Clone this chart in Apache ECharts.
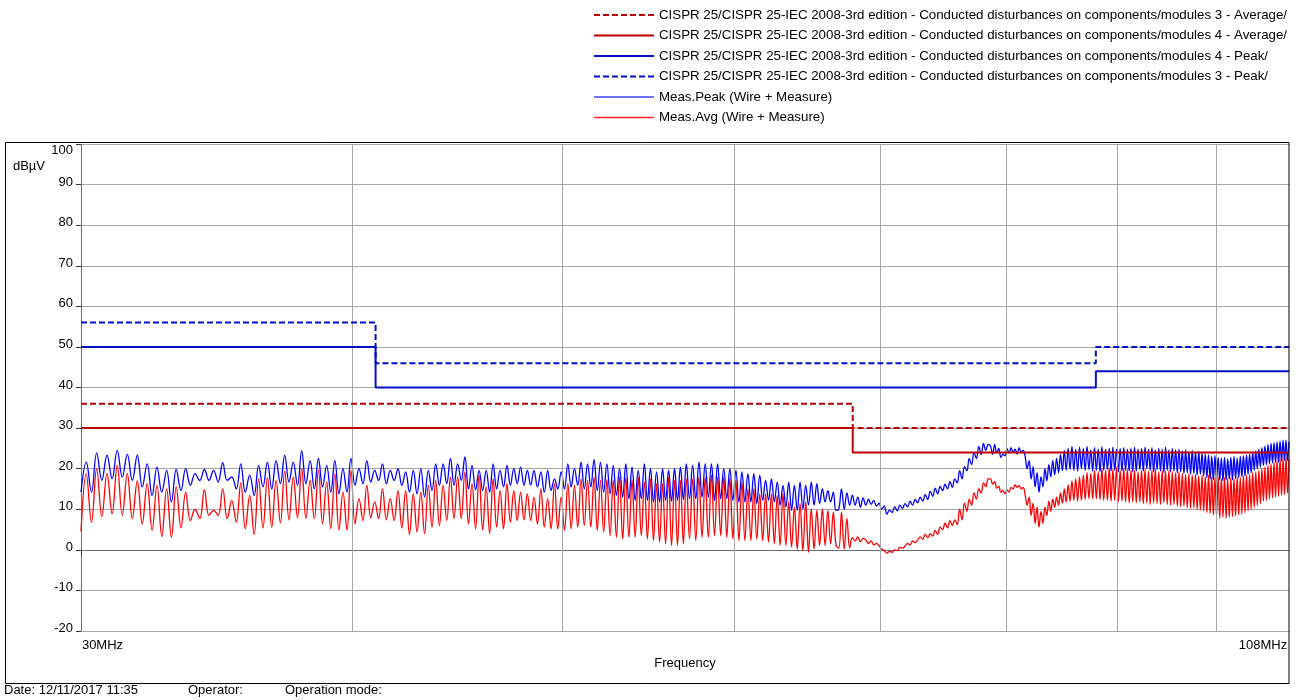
<!DOCTYPE html>
<html><head><meta charset="utf-8">
<script src="https://cdn.jsdelivr.net/npm/echarts@6/dist/echarts.min.js"></script>
<style>html,body{margin:0;padding:0;background:#fff}#c{width:1296px;height:700px}</style>
</head><body><div id="c"></div>
<script>
// ---------- data ----------
const legendNames = [
  'CISPR 25/CISPR 25-IEC 2008-3rd edition - Conducted disturbances on components/modules 3 - Average/',
  'CISPR 25/CISPR 25-IEC 2008-3rd edition - Conducted disturbances on components/modules 4 - Average/',
  'CISPR 25/CISPR 25-IEC 2008-3rd edition - Conducted disturbances on components/modules 4 - Peak/',
  'CISPR 25/CISPR 25-IEC 2008-3rd edition - Conducted disturbances on components/modules 3 - Peak/',
  'Meas.Peak (Wire + Measure)',
  'Meas.Avg (Wire + Measure)'
];
const avgClass3 = [[30,36],[68,36],[68,30],[108,30]];
const avgClass4 = [[30,30],[68,30],[68,24],[108,24]];
const peakClass4 = [[30,50],[41,50],[41,40],[88,40],[88,44],[108,44]];
const peakClass3 = [[30,56],[41,56],[41,46],[88,46],[88,50],[108,50]];

const gridFreqs = [40, 50, 60, 70, 80, 90, 100];
const yTicks = { min: -20, max: 100, step: 10 };
const xLabels = ['30MHz', '108MHz'];

// sweep segments (MHz); samples are evenly spaced inside each segment
const segBounds = [30, 35.2, 41.3, 48.5, 57.0, 67.0, 78.7, 92.2, 108];

const avgS1 = [4.5,18.8,6.8,20,8.2,18.8,8.9,20.8,8.5,18.8,7.7,17,6.4,16.3,4.8,15.9,3.3,15,3.1,15.5,5.4,14.2,7.2,10,7.7,14.8,8.5,9.7,8.5,15,7.7];
const peakS1 = [14.2,21.6,14.2,23.9,17.1,23.3,17.5,24.5,17.9,23.5,17.1,23.3,15.5,21.2,13.4,20.4,14.2,19.6,11.8,19.8,14.6,20,15.9,18.8,17.1,19.8,17.1,19.6,16.7,21.5,17.1];

const avgS2 = [12.2,6.8,16.5,5.2,13.4,3.8,17.5,5.4,17.8,5.6,17.1,6.6,19.4,7.4,17.9,7.9,20,7.7,17.1,7.7,19.6,6.4,16.7,5.2,18.8,4.9,14.2,4.9,19.6,6.4,12.6,7.2,15.9,7.9,11.8,7.7];
const peakS2 = [18,15,21.2,14.2,18.4,13.4,20.8,15.5,21.6,15,22,16.3,23.3,16.7,21.6,15.9,24.4,16.3,22,15,22.5,15.5,20.8,14.2,22,13.8,20,14.2,22.5,15.9,20,16.3,22,16.7,19.6,17.1];

const avgS3 = [15,7.4,12.6,7.2,14.6,5.4,14.6,3.8,13.8,4.4,14.2,4,15.9,5.6,17.1,6,15.9,7.2,17.9,7.7,17.9,7.7,19.2,6.4,16.3,5.2,18.4,4.9,15.5,4,17.5,5.6,14.6,5.2,16.3,6.8,14.6,7.2,14.2,7.4,13.8,7.2];
const peakS3 = [21.2,16.3,19.6,17.1,20,15.9,19.2,14.2,19.6,13.8,20,13,19.6,14.6,21.2,15.9,21.2,16.3,22.5,15.9,21.2,17.1,22.9,15,20.8,14.8,19.6,14.6,19.6,14.2,21.2,15,19.6,15.5,20.8,15.9,20,16.3,20.4,15.9,19.6,16];

const avgS4 = [13,6.4,15,5.6,12.6,5.2,16.3,5.2,13,4.8,16.3,5.2,15.9,5.6,17.5,6,17.1,5.6,17.9,4.8,17.1,4.4,17.3,3.5,17.1,3.1,17.9,2.7,17.8,3.1,17.1,3.1,17.9,3.5,16.7,2.7,17.5,2.3,16.3,1.9,16.3,1.5,17.9,1.1,17.1,1.1,17.1,1.5];
const peakS4 = [19.6,15.5,19.2,14.2,19.6,14.6,17.5,15,19.2,15,21.2,15.5,20,15.9,21.6,15,21.2,15.5,22.2,14.6,21.6,14.2,21.2,13.8,20.8,13.4,20,13,21.2,12.6,20.4,12.2,19.6,12.6,21.2,12.2,20,11.8,19.2,11.8,20,12.2,19.6,12,20,12.2,20.4,12.4];

const avgS5 = [17.5,2.7,17.5,2.3,17.9,3.1,17.9,3.1,18.4,3.5,17.9,3.5,17.9,3.1,17.5,2.7,17.1,2.3,16.7,2.3,15,2.3,15,2.7,13.8,2.3,13.8,1.9,13.8,1.5,13.4,1.1,13.8,1.1,11.8,0.7,10.5,0.2,11.4,-0.2,11.8,-0.6,10.1,0.2,9.7,1.1,10.1,1.1,9.7,1.5,9.3,1.1];
const peakS5 = [21.2,12.6,20.8,12.6,21.6,13,21.2,13,21.2,12.2,21.2,12.6,20,12.6,20,12.2,19.6,11.8,19.2,11.8,18.8,11.8,18.8,11.4,18.4,12.2,17.1,12.2,17.5,11.8,16.7,11,15.9,10.5,16.7,9.7,15.9,9.7,16.7,10.1,15.9,11,16.7,11,16.3,11.4,15,11.8,14.6,11.8,14.2,9.7];

const avgS6 = [0.4,9.3,0.2,7.7,0.5, 3.0,2.2,3.2,2.0,2.8, 2.4,1.6,2.2,1.2,1.6, 1.0,0.2,-0.2,-0.8,-0.4, -0.6,0.0,-0.2,0.6,0.4, 0.9,1.6,1.2,2.2,1.8, 2.4,3.2,2.6,3.8,3.0, 4.0,3.4,4.8,3.8,5.6, 5.0,6.6,5.4,7.2,6.0, 7.4,6.2,10.0,7.4,11.5, 9.5,12.5,11.0,14.0,12.5, 15.0,14.0,16.5,15.5,17.5];
const peakS6 = [10,15,10,14,11, 13.5,11,13,10.5,12.8, 11,12.5,11.2,12.2,10.8, 11.5,10,10.8,8.8,9.8, 9.2,10.6,9.6,11,10.2, 11.4,10.6,12,11,12.4, 11.6,13,12,13.6,12.4, 14.4,13.2,15.2,13.8,15.6, 14.6,16.2,15,16.8,15.4, 17.5,16.5,19.5,17.5,20.5, 19.5,22.5,21,24,22.5, 25.5,23.5,26.2,24.5,26];

const avgS7 = [17.5,16.2,16.8,15.2,15.6,14.2,14.6, 13.8,14.8,14.2,15.4,15.0,16.0,15.4,15.8,15.0,15.4, 13.5,11.0,13.0,8.5,11.5,6.5,10.5,5.6,9.5, 6.5,10.5,8.5,12,9.5,12.5,10.5,13,11,14,11.5,15, 11.8,16,12,17,12.2,17.5,12,18,12.2,18.4,12.4,19,12.6,18.8,12.6,19.6,12.6,19.2,12.4,20,12.2,19.6,12.2,20.2,12,19.8,12.2,20.4,11.8,19.6,12,20,11.8,19.8,11.6,19.6,11.8,19.6,11.6,19.2];
const peakS7 = [25.5,23.5,26,23.8,25,22.8,23.5, 23.2,25,23.8,25.2,24,24.8,23.6,25.2,24,24.5, 23,20,22,17.5,20.5,15.5,19,14.2,18, 15.5,20,17,21,18,22,18.5,22.5,19,23.5,19.5,24.5, 19.6,25,19.8,25.5,19.6,24.8,19.4,25.3,20,25,19.6,25.5,19.8,24.6,19.4,25.2,19.6,24.8,19.2,25.4,19.6,24.8,19.8,25,19.4,25.3,19.6,24.8,19.2,25,19.4,25.2,19.6,24.8,19.4,25,19.2,25.3,19.4,24.8];

const avgS8 = [11.8,19.6,11.4,19.8,11.6,19.4,11.2,19.6,11.6,19.8,11.4,19.2,11.2,19.6,11.6,19.4,11.2,19.6,11,19.2,11.2,19,10.8,19.2,10.6,18.8,10.8,18.6,10.4,18.8,10.2,18.4,10.4,18.6,10,18.2,9.8,18.4,9.6,18,9.2,18.4,9,18,8.6,17.8,8.2,18,7.8,17.6,8,17.8,7.8,17.6,8,17.8,8.2,17.6,8.4,18,8.6,17.8,8.8,18.2,9.2,18.4,9.6,18.6,10,19,10.4,19.2,11,19.6,11.4,20,12,20.4,12.2,20.8,12.6,21.2,12.8,21.6,13,22,13.2,22.4,13.4,22.6,13.6,22.8,14,22.4];
const peakS8 = [19.8,25,19.4,25.3,20,24.8,19.6,25.2,19.2,24.6,19.8,25,19.4,24.8,19,25.3,19.6,24.6,19.2,25,19.4,24.6,19,24.8,19.2,24.4,18.8,24.6,19,24.2,18.6,24.5,18.8,24,18.4,24.2,18.6,23.8,18.2,23.6,17.8,23.4,17.4,23,17.2,23.2,17,22.8,17.2,22.6,17,22.8,17.2,22.4,17.4,22.8,17.2,23,17.6,22.6,17.8,23,18,23.2,18.2,23.4,18.6,23.6,19,24,19.6,24.4,20,24.8,20.4,25.2,20.8,25.6,21,26,21.2,26.2,21.4,26.4,21.6,26.6,21.6,26.8,21.8,27,22,27,22,26.6];

const avgSegs = [avgS1, avgS2, avgS3, avgS4, avgS5, avgS6, avgS7, avgS8];
const peakSegs = [peakS1, peakS2, peakS3, peakS4, peakS5, peakS6, peakS7, peakS8];

// ---------- build ----------
function buildTrace(segs) {
  const out = [];
  segs.forEach((vals, s) => {
    const from = segBounds[s], to = segBounds[s + 1];
    const last = s === segs.length - 1;
    const step = (to - from) / (last ? vals.length - 1 : vals.length);
    vals.forEach((v, j) => out.push([from + j * step, v]));
  });
  return out;
}

const FONT = 'Liberation Sans, Arial, sans-serif';
const chart = echarts.init(document.getElementById('c'), null, { renderer: 'canvas' });

function limitSeries(name, data, color, dashed) {
  return {
    name, type: 'line', data, symbol: 'none', z: 5, silent: true,
    lineStyle: { color, width: 2, type: dashed ? [6, 3] : 'solid' },
    itemStyle: { color }
  };
}

const legendData = legendNames.map((n, i) => {
  const item = { name: n };
  if (i === 4) item.lineStyle = { color: '#7070ff', width: 2 };
  if (i === 5) item.lineStyle = { color: '#ff2020', width: 1.5 };
  return item;
});

chart.setOption({
  animation: false,
  backgroundColor: '#fff',
  grid: { left: 81, right: 7, top: 144, bottom: 69, containLabel: false },
  legend: {
    data: legendData,
    orient: 'vertical', left: 588, top: 3,
    itemWidth: 60, itemHeight: 14, itemGap: 6.5,
    selectedMode: false,
    itemStyle: { color: 'rgba(0,0,0,0)', borderColor: 'rgba(0,0,0,0)', borderWidth: 0 },
    textStyle: { fontFamily: FONT, fontSize: 13.3, color: '#000', lineHeight: 14 }
  },
  xAxis: {
    type: 'log', logBase: 10, min: 30, max: 108,
    name: 'Frequency', nameLocation: 'middle', nameGap: 23,
    nameTextStyle: { fontFamily: FONT, fontSize: 13, color: '#000' },
    axisLine: { show: true, lineStyle: { color: '#6e6e6e', width: 1 } },
    axisTick: { show: true, length: 6, customValues: [30], lineStyle: { color: '#333' } },
    splitLine: { show: false },
    minorTick: { show: false },
    axisLabel: {
      customValues: [30, 108],
      margin: 8,
      fontFamily: FONT, fontSize: 13, color: '#000',
      formatter: v => {
        const r = Math.round(v);
        if (r === 30) return '{l|' + xLabels[0] + '}';
        if (r === 108) return '{r|' + xLabels[1] + '}';
        return '';
      },
      rich: {
        l: { fontFamily: FONT, fontSize: 13, color: '#000', padding: [0, 0, 0, 43] },
        r: { fontFamily: FONT, fontSize: 13, color: '#000', padding: [0, 52, 0, 0] }
      }
    }
  },
  yAxis: {
    type: 'value', min: yTicks.min, max: yTicks.max, interval: yTicks.step,
    name: 'dBµV', nameLocation: 'end', nameGap: -16,
    nameTextStyle: { fontFamily: FONT, fontSize: 13, color: '#000', align: 'right', verticalAlign: 'top', padding: [0, 36, 0, 0] },
    axisLine: { show: true, lineStyle: { color: '#6e6e6e', width: 1 } },
    axisTick: { show: true, length: 5, lineStyle: { color: '#333' } },
    splitLine: { show: true, lineStyle: { color: '#a6a6a6', width: 1 } },
    axisLabel: {
      margin: 8,
      fontFamily: FONT, fontSize: 13, color: '#000',
      formatter: v => (v === yTicks.max ? '{t|' + v + '}' : '{n|' + v + '}'),
      rich: {
        t: { fontFamily: FONT, fontSize: 13, color: '#000', padding: [13, 0, 0, 0] },
        n: { fontFamily: FONT, fontSize: 13, color: '#000', padding: [0, 0, 5, 0] }
      }
    }
  },
  graphic: [
    { type: 'rect', silent: true, z: 100,
      shape: { x: 5.5, y: 142.5, width: 1283.5, height: 541 },
      style: { fill: 'none', stroke: '#000', lineWidth: 1 } },
    { type: 'text', left: 4, top: 684, style: { text: 'Date: 12/11/2017 11:35', font: '13px ' + FONT, fill: '#000' } },
    { type: 'text', left: 188, top: 684, style: { text: 'Operator:', font: '13px ' + FONT, fill: '#000' } },
    { type: 'text', left: 285, top: 684, style: { text: 'Operation mode:', font: '13px ' + FONT, fill: '#000' } }
  ],
  series: [
    {
      name: '_grid', type: 'line', data: [], symbol: 'none', z: 1, silent: true,
      markLine: {
        silent: true, symbol: ['none', 'none'], animation: false,
        label: { show: false },
        lineStyle: { color: '#a6a6a6', width: 1, type: 'solid' },
        data: gridFreqs.map(f => ({ xAxis: f }))
      }
    },
    {
      name: legendNames[4], type: 'line', data: buildTrace(peakSegs), symbol: 'none', z: 3,
      smooth: 0.4,
      lineStyle: { color: '#0000ff', width: 1.3 }, itemStyle: { color: '#0000ff' }
    },
    {
      name: legendNames[5], type: 'line', data: buildTrace(avgSegs), symbol: 'none', z: 4,
      smooth: 0.4,
      lineStyle: { color: '#ff0000', width: 1.3 }, itemStyle: { color: '#ff0000' }
    },
    limitSeries(legendNames[0], avgClass3, '#b40000', true),
    limitSeries(legendNames[1], avgClass4, '#c00000', false),
    limitSeries(legendNames[2], peakClass4, '#0010c8', false),
    limitSeries(legendNames[3], peakClass3, '#0010c8', true)
  ]
});
</script>
</body></html>
